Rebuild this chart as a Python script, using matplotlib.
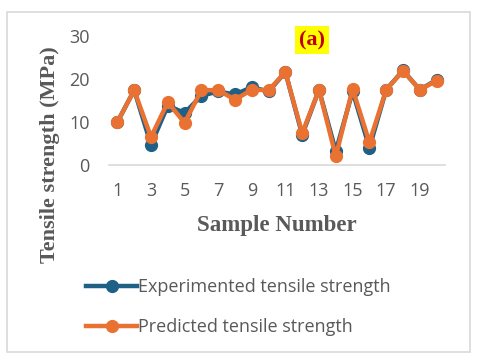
import numpy as np
import matplotlib
matplotlib.use("Agg")
import matplotlib.pyplot as plt
from matplotlib.patches import Rectangle

# data
samples = list(range(1, 21))
experimented = [10.0, 17.4, 4.7, 13.8, 12.1, 16.1, 17.1, 16.4, 18.1, 17.1,
                21.6, 7.0, 17.5, 3.2, 17.1, 4.0, 17.5, 22.0, 17.5, 19.8]
predicted = [10.0, 17.4, 6.5, 14.6, 9.8, 17.4, 17.4, 15.2, 17.5, 17.4,
             21.6, 7.4, 17.5, 2.0, 17.7, 5.3, 17.5, 21.9, 17.5, 19.6]
xtick_labels = [str(i) for i in range(1, 20, 2)]
yticks = [0, 10, 20, 30]

blue = "#1f6086"
orange = "#e97132"
grey = "#595959"

fig = plt.figure(figsize=(4.8, 3.6), dpi=100)

# outer chart border
fig.patches.append(Rectangle((7/480, 1-352/360), 463/480, 340/360,
                             transform=fig.transFigure, fill=False,
                             edgecolor="#d9d9d9", lw=1.2))

ax = fig.add_axes([109/480, 1-165/360, 336/480, 129/360])
ax.plot(samples, experimented, color=blue, lw=3.2, marker="o", ms=8.5,
        label="Experimented tensile strength")
ax.plot(samples, predicted, color=orange, lw=3.2, marker="o", ms=8.5,
        label="Predicted tensile strength")

ax.set_xlim(0.5, 20.5)
ax.set_ylim(0, 30)
ax.set_yticks(yticks)
ax.set_xticks(range(1, 20, 2))
ax.set_xticklabels(xtick_labels)
for s in ["top", "right", "left"]:
    ax.spines[s].set_visible(False)
ax.spines["bottom"].set_color("#d9d9d9")
ax.spines["bottom"].set_linewidth(1.2)
ax.spines["bottom"].set_zorder(0)
ax.tick_params(length=0, labelsize=13, labelcolor=grey)
ax.tick_params(axis="x", pad=12)
ax.tick_params(axis="y", pad=14)
for t in ax.get_xticklabels() + ax.get_yticklabels():
    t.set_family("Open Sans")
ax.patch.set_visible(False)

fig.text(50/480, 1-155/360, "Tensile strength (MPa)", rotation=90,
         ha="center", va="center", family="Liberation Serif",
         fontweight="bold", fontsize=16, color=grey)
fig.text(277/480, 1-226/360, "Sample Number", ha="center", va="center",
         family="Liberation Serif", fontweight="bold", fontsize=16.5, color=grey)
fig.text(312/480, 1-40/360, "(a)", ha="center", va="center",
         family="Liberation Serif", fontweight="bold", fontsize=16,
         color="#c00000",
         bbox=dict(facecolor="#ffff00", edgecolor="none", pad=2.5))

fig.legend(loc="upper left", bbox_to_anchor=(70/480, 1-262/360),
           frameon=False, handlelength=2.8, handletextpad=0.05,
           labelspacing=1.2, prop={"family": "Open Sans", "size": 13},
           labelcolor=grey)

fig.savefig("out.png", dpi=100)
